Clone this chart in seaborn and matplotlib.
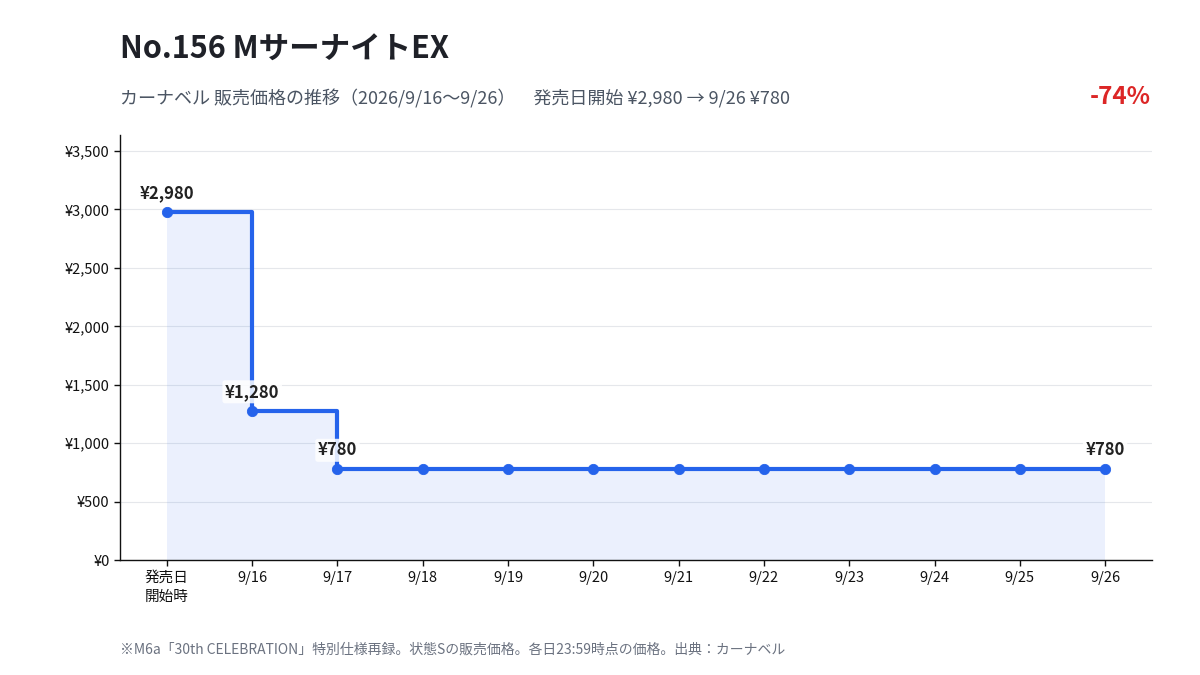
import pandas as pd
import seaborn as sns
import matplotlib.pyplot as plt

sns.set_style("white")
plt.rcParams['font.family'] = ['Noto Sans CJK JP', 'DejaVu Sans']

# data
days = ["発売日\n開始時", "9/16", "9/17", "9/18", "9/19", "9/20", "9/21",
        "9/22", "9/23", "9/24", "9/25", "9/26"]
prices = [2980, 1280, 780, 780, 780, 780, 780, 780, 780, 780, 780, 780]
labeled = [0, 1, 2, 11]
y_ticks = [0, 500, 1000, 1500, 2000, 2500, 3000, 3500]

df = pd.DataFrame({"pos": range(len(days)), "price": prices})

blue = "#2563eb"

fig = plt.figure(figsize=(12, 6.75), dpi=100)
ax = fig.add_axes([0.1, 0.17, 0.86, 0.63])

ax.fill_between(df["pos"], df["price"], step="post", color=blue, alpha=0.09, lw=0)
sns.lineplot(data=df, x="pos", y="price", ax=ax, color=blue, lw=3,
             drawstyle="steps-post", zorder=3)
sns.scatterplot(data=df, x="pos", y="price", ax=ax, color=blue, s=55,
                edgecolor=blue, zorder=4)

# price labels above the key points
for i in labeled:
    ax.annotate(f"¥{prices[i]:,}", (df["pos"][i], prices[i]),
                xytext=(0, 7), textcoords="offset points", ha="center",
                va="bottom", fontsize=12, fontweight="bold", color="#222222",
                bbox=dict(boxstyle="round,pad=0.15", fc="white", ec="none", alpha=0.85),
                zorder=5)

ax.set_xlim(-0.55, len(days) - 0.45)
ax.set_ylim(0, max(prices) * 1.22)
ax.set_xticks(df["pos"])
ax.set_xticklabels(days, fontsize=10.5, linespacing=1.45)
ax.set_yticks(y_ticks)
ax.set_yticklabels([f"¥{v:,}" for v in y_ticks], fontsize=10.5)
ax.set_xlabel("")
ax.set_ylabel("")
ax.grid(axis="y", color="#e5e7eb", lw=0.8)
ax.set_axisbelow(True)
for s in ["top", "right"]:
    ax.spines[s].set_visible(False)
for s in ["left", "bottom"]:
    ax.spines[s].set_color("#111111")
    ax.spines[s].set_linewidth(1)
ax.tick_params(axis="both", length=4, width=1, color="#111111", labelcolor="#111111",
               bottom=True, left=True)

fig.text(0.1, 0.927, "No.156 MサーナイトEX", fontsize=22,
         fontweight="bold", color="#1f2128", va="center")
fig.text(0.1, 0.853, "カーナベル 販売価格の推移（2026/9/16〜9/26）　発売日開始 ¥2,980 → 9/26 ¥780",
         fontsize=13, color="#4b5563", va="center")
fig.text(0.959, 0.857, "-74%", fontsize=17.5, fontweight="bold", color="#dc2626",
         va="center", ha="right")
fig.text(0.1, 0.038, "※M6a「30th CELEBRATION」特別仕様再録。状態Sの販売価格。各日23:59時点の価格。出典：カーナベル",
         fontsize=10, color="#6b7280", va="center")

fig.savefig("out.png", dpi=100)
